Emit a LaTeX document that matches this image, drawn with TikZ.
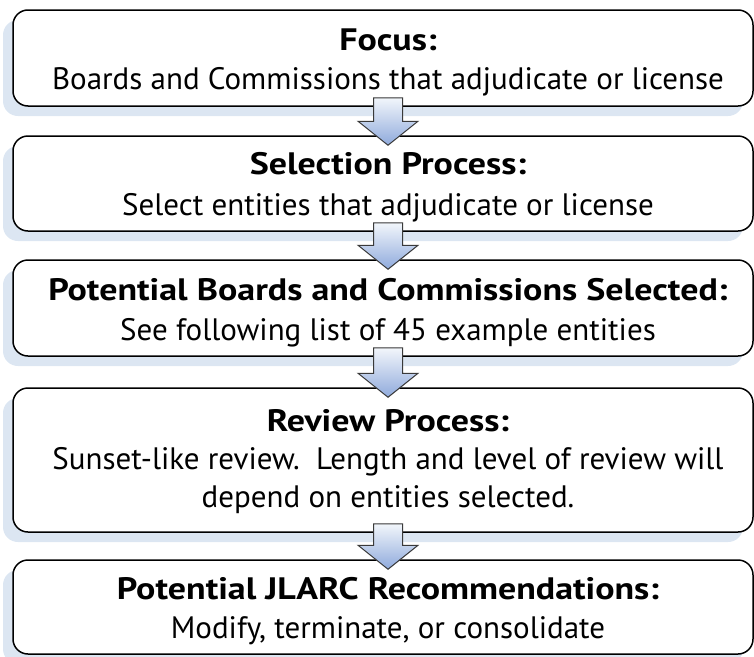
\documentclass[tikz,border=0pt]{standalone}
\usepackage{fontspec}
\setmainfont{PT Sans}[BoldFeatures={FakeStretch=1.16}]
\usetikzlibrary{calc,shadows}
\definecolor{shadowblue}{HTML}{DCE6F2}
\definecolor{arrtop}{HTML}{F2F6FB}
\definecolor{arrbot}{HTML}{8FAADC}
\definecolor{arrline}{HTML}{3A3A3A}
\definecolor{arrshadow}{HTML}{D3DEEE}
\newcommand\flowarrow[2]{%
  \fill[arrshadow,xshift=-6pt,yshift=-6pt] let \p1=($(#1.south)+(5,-9)$), \p2=($(#2.north)+(5,10)$) in
    (\x1-14.5pt,\y1) -- (\x1+14.5pt,\y1) -- (\x1+14.5pt,\y2+24pt) -- (\x1+30pt,\y2+24pt)
    -- (\x1,\y2) -- (\x1-30pt,\y2+24pt) -- (\x1-14.5pt,\y2+24pt) -- cycle;
  \draw[flowarr] let \p1=($(#1.south)+(5,-9)$), \p2=($(#2.north)+(5,10)$) in
    (\x1-14.5pt,\y1) -- (\x1+14.5pt,\y1) -- (\x1+14.5pt,\y2+24pt) -- (\x1+30pt,\y2+24pt)
    -- (\x1,\y2) -- (\x1-30pt,\y2+24pt) -- (\x1-14.5pt,\y2+24pt) -- cycle;}
\begin{document}
\begin{tikzpicture}[x=1pt,y=-1pt,
  stagebox/.style={draw=black,line width=1.5pt,fill=white,rounded corners=15pt,
    minimum width=740pt,inner sep=0pt,
    drop shadow={shadow xshift=-10pt,shadow yshift=-10pt,fill=shadowblue,opacity=1}},
  titletext/.style={anchor=base,font=\fontsize{31}{37}\selectfont\bfseries,inner sep=0pt},
  bodytext/.style={anchor=base,font=\fontsize{31}{37}\selectfont,inner sep=0pt},
  flowarr/.style={draw=arrline,line width=1pt,top color=arrtop,bottom color=arrbot,line join=miter}]
\useasboundingbox (0,0) rectangle (754,656);

\node[stagebox,minimum height=96pt] (b1) at (383,58) {};
\node[stagebox,minimum height=95pt] (b2) at (383,183.5) {};
\node[stagebox,minimum height=96pt] (b3) at (383,308) {};
\node[stagebox,minimum height=144pt] (b4) at (383,460) {};
\node[stagebox,minimum height=94pt] (b5) at (383,607) {};

\node[titletext] (t1) at (388,50) {Focus:};
\node[bodytext] (s1) at (388,89) {Boards and Commissions that adjudicate or license};
\node[titletext] (t2) at (388,174.5) {Selection Process:};
\node[bodytext] (s2) at (388,215.5) {Select entities that adjudicate or license};
\node[titletext] (t3) at (388,300) {Potential Boards and Commissions Selected:};
\node[bodytext] (s3) at (388,340) {See following list of 45 example entities};
\node[titletext] (t4) at (388,431) {Review Process:};
\node[bodytext] (s4a) at (388,469) {Sunset-like review.\ \ Length and level of review will};
\node[bodytext] (s4b) at (388,507) {depend on entities selected.};
\node[titletext] (t5) at (388,599) {Potential JLARC Recommendations:};
\node[bodytext] (s5) at (388,638) {Modify, terminate, or consolidate};

\flowarrow{b1}{b2}
\flowarrow{b2}{b3}
\flowarrow{b3}{b4}
\flowarrow{b4}{b5}
\end{tikzpicture}
\end{document}
